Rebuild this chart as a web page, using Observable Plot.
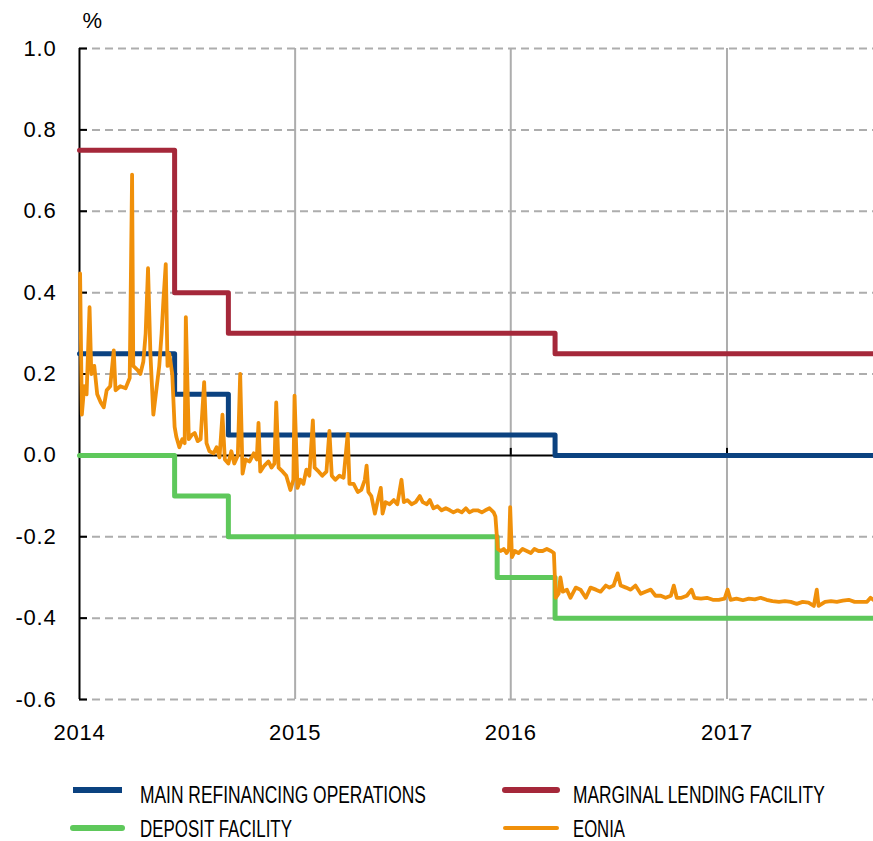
<!DOCTYPE html>
<html>
<head>
<meta charset="utf-8">
<script src="https://cdn.jsdelivr.net/npm/d3@7"></script>
<script src="https://cdn.jsdelivr.net/npm/@observablehq/plot@0.6"></script>
<style>
  html, body { margin: 0; padding: 0; background: #fff; }
  #chart { width: 873px; height: 841px; position: relative; overflow: hidden; }
  svg { display: block; }
  #chart > svg.mainplot text { font-size: 22px !important; letter-spacing: 0.8px; }
</style>
</head>
<body>
<div id="chart"></div>
<script>
// ---------- data ----------
const yTicks = [-0.6, -0.4, -0.2, 0.0, 0.2, 0.4, 0.6, 0.8, 1.0];
const yearTicks = ["2014-01-01", "2015-01-01", "2016-01-01", "2017-01-01"];
const xDomain = ["2014-01-01", "2017-09-06"];
const unitLabel = "%";

// policy rate changes (step-after), last entry extends to chart end
const policyDates = ["2014-01-01", "2014-06-11", "2014-09-10", "2015-12-09", "2016-03-16", "2017-09-06"];
const mroValues = [0.25, 0.15, 0.05, 0.05, 0.00, 0.00];
const mlfValues = [0.75, 0.40, 0.30, 0.30, 0.25, 0.25];
const dfValues  = [0.00, -0.10, -0.20, -0.30, -0.40, -0.40];

// EONIA
const eoniaDates = [
  "2014-01-02","2014-01-05","2014-01-09","2014-01-13","2014-01-18","2014-01-21","2014-01-26","2014-01-31",
  "2014-02-06","2014-02-11","2014-02-16","2014-02-22","2014-02-28","2014-03-03","2014-03-11","2014-03-20",
  "2014-03-27","2014-03-31","2014-04-02","2014-04-09","2014-04-14","2014-04-19","2014-04-23","2014-04-27",
  "2014-05-01","2014-05-06","2014-05-11","2014-05-16","2014-05-20","2014-05-23","2014-05-27","2014-05-30",
  "2014-06-02","2014-06-07","2014-06-11","2014-06-14","2014-06-19","2014-06-24","2014-06-28","2014-06-30",
  "2014-07-05","2014-07-10","2014-07-15","2014-07-20","2014-07-25","2014-07-31","2014-08-04","2014-08-09",
  "2014-08-16","2014-08-21","2014-08-26","2014-08-31","2014-09-04","2014-09-10","2014-09-15","2014-09-20",
  "2014-09-26","2014-09-30","2014-10-04","2014-10-09","2014-10-16","2014-10-23","2014-10-28","2014-10-31",
  "2014-11-03","2014-11-10","2014-11-17","2014-11-22","2014-11-27","2014-11-30","2014-12-04","2014-12-11",
  "2014-12-17","2014-12-24","2014-12-29","2014-12-31",
  "2015-01-05","2015-01-10","2015-01-15","2015-01-20","2015-01-25","2015-01-31","2015-02-03","2015-02-10",
  "2015-02-16","2015-02-23","2015-02-28","2015-03-04","2015-03-10","2015-03-17","2015-03-24","2015-03-31",
  "2015-04-03","2015-04-10","2015-04-17","2015-04-23","2015-04-29","2015-05-02","2015-05-05","2015-05-10",
  "2015-05-16","2015-05-21","2015-05-26","2015-05-29","2015-06-03","2015-06-10","2015-06-17","2015-06-23",
  "2015-06-30","2015-07-04","2015-07-10","2015-07-17","2015-07-24","2015-07-31","2015-08-05","2015-08-12",
  "2015-08-17","2015-08-23","2015-08-30","2015-09-06","2015-09-13","2015-09-20","2015-09-26","2015-10-03",
  "2015-10-10","2015-10-17","2015-10-23","2015-10-30","2015-11-06","2015-11-13","2015-11-19","2015-11-26",
  "2015-12-03","2015-12-06","2015-12-10","2015-12-15","2015-12-20","2015-12-25","2015-12-29","2015-12-31",
  "2016-01-03","2016-01-08","2016-01-14","2016-01-21","2016-01-28","2016-02-04","2016-02-10","2016-02-17",
  "2016-02-24","2016-03-02","2016-03-09","2016-03-14","2016-03-17","2016-03-22","2016-03-25","2016-03-29",
  "2016-04-05","2016-04-11","2016-04-20","2016-04-28","2016-05-07","2016-05-15","2016-05-24","2016-06-01",
  "2016-06-10","2016-06-16","2016-06-23","2016-06-30","2016-07-05","2016-07-14","2016-07-22","2016-07-30",
  "2016-08-08","2016-08-16","2016-08-25","2016-09-02","2016-09-11","2016-09-19","2016-09-28","2016-10-03",
  "2016-10-08","2016-10-16","2016-10-25","2016-11-02","2016-11-07","2016-11-18","2016-11-28","2016-12-08",
  "2016-12-18","2016-12-28","2017-01-02","2017-01-07","2017-01-17","2017-01-28","2017-02-07","2017-02-17",
  "2017-02-27","2017-03-09","2017-03-19","2017-03-30","2017-04-09","2017-04-19","2017-04-29","2017-05-09",
  "2017-05-19","2017-05-28","2017-06-02","2017-06-05","2017-06-16","2017-06-26","2017-07-06","2017-07-16",
  "2017-07-26","2017-08-05","2017-08-15","2017-08-26","2017-09-01","2017-09-06"
];
const eoniaValues = [
  0.447,0.10,0.17,0.15,0.364,0.20,0.22,0.15,
  0.13,0.118,0.16,0.17,0.258,0.16,0.17,0.165,
  0.19,0.69,0.22,0.21,0.20,0.23,0.30,0.46,
  0.25,0.10,0.16,0.22,0.30,0.38,0.47,0.22,
  0.25,0.20,0.07,0.045,0.02,0.04,0.03,0.34,
  0.04,0.05,0.055,0.035,0.04,0.18,0.03,0.01,
  0.005,0.02,-0.005,0.10,-0.01,-0.02,0.01,-0.02,
  0.0,0.20,-0.045,-0.01,-0.015,0.005,-0.01,0.08,
  -0.04,-0.025,-0.015,-0.03,-0.02,0.13,-0.03,-0.04,
  -0.05,-0.085,-0.06,0.147,
  -0.08,-0.06,-0.07,-0.035,-0.05,0.086,-0.03,-0.04,
  -0.05,-0.04,0.06,-0.05,-0.06,-0.05,-0.055,0.053,
  -0.07,-0.07,-0.09,-0.085,-0.06,-0.025,-0.09,-0.10,
  -0.143,-0.11,-0.08,-0.143,-0.115,-0.12,-0.11,-0.12,
  -0.06,-0.115,-0.11,-0.12,-0.115,-0.10,-0.115,-0.12,
  -0.11,-0.13,-0.125,-0.135,-0.13,-0.135,-0.14,-0.135,
  -0.14,-0.13,-0.14,-0.135,-0.135,-0.14,-0.135,-0.13,
  -0.14,-0.15,-0.23,-0.235,-0.23,-0.24,-0.23,-0.127,
  -0.25,-0.235,-0.24,-0.23,-0.235,-0.24,-0.23,-0.235,
  -0.235,-0.23,-0.235,-0.24,-0.35,-0.34,-0.30,-0.335,
  -0.33,-0.35,-0.325,-0.33,-0.35,-0.325,-0.33,-0.335,
  -0.32,-0.325,-0.32,-0.29,-0.32,-0.325,-0.33,-0.32,
  -0.34,-0.335,-0.33,-0.345,-0.345,-0.35,-0.345,-0.32,
  -0.35,-0.35,-0.345,-0.33,-0.35,-0.352,-0.35,-0.355,
  -0.355,-0.352,-0.33,-0.355,-0.352,-0.356,-0.352,-0.354,
  -0.35,-0.355,-0.358,-0.36,-0.358,-0.36,-0.365,-0.36,
  -0.362,-0.37,-0.33,-0.37,-0.36,-0.358,-0.36,-0.357,
  -0.355,-0.36,-0.36,-0.36,-0.35,-0.355
];

const seriesNames = ["MAIN REFINANCING OPERATIONS", "MARGINAL LENDING FACILITY", "DEPOSIT FACILITY", "EONIA"];
const seriesColors = ["#0b4280", "#a5283a", "#5ec85b", "#f0900a"];

// ---------- build tables ----------
const parse = d3.utcParse("%Y-%m-%d");
const policy = policyDates.map((d, i) => ({date: parse(d), mro: mroValues[i], mlf: mlfValues[i], df: dfValues[i]}));
const eonia = eoniaDates.map((d, i) => ({date: parse(d), value: eoniaValues[i]}));
const years = yearTicks.map(parse);
const fmt = d => d.toFixed(1);

const plot = Plot.plot({
  className: "mainplot",
  width: 873,
  height: 760,
  marginLeft: 79,
  marginRight: 0,
  marginTop: 48,
  marginBottom: 61,
  style: {fontFamily: "'Liberation Sans', Arial, sans-serif", fontSize: "22px", color: "#000", background: "#fff", overflow: "visible"},
  x: {type: "utc", domain: xDomain.map(parse), label: null},
  y: {domain: [-0.6, 1.0], label: null},
  marks: [
    Plot.ruleY(yTicks.filter(d => d !== 0), {stroke: "#adadad", strokeWidth: 2, strokeDasharray: "8,5"}),
    Plot.ruleX(years.slice(1), {stroke: "#adadad", strokeWidth: 2}),
    Plot.ruleY([0], {stroke: "#000", strokeWidth: 2}),
    Plot.ruleX(years.slice(1), {y1: 0, y2: 0, insetTop: -7, stroke: "#000", strokeWidth: 2}),
    Plot.ruleX([years[0]], {stroke: "#000", strokeWidth: 2}),
    Plot.axisY({ticks: yTicks, tickSize: 8, dx: 8, tickFormat: () => "", stroke: "#000", strokeWidth: 2, label: null}),
    Plot.axisY({ticks: yTicks, tickSize: 0, tickPadding: 23, tickFormat: fmt, label: null, fontSize: 22}),
    Plot.axisX({ticks: years, tickSize: 0, tickPadding: 25, tickFormat: d3.utcFormat("%Y"), label: null, fontSize: 22}),
    Plot.line(policy, {x: "date", y: "df", curve: "step-after", stroke: seriesColors[2], strokeWidth: 5}),
    Plot.line(policy, {x: "date", y: "mlf", curve: "step-after", stroke: seriesColors[1], strokeWidth: 5}),
    Plot.line(policy, {x: "date", y: "mro", curve: "step-after", stroke: seriesColors[0], strokeWidth: 5}),
    Plot.line(eonia, {x: "date", y: "value", stroke: seriesColors[3], strokeWidth: 3.8, strokeLinejoin: "round"}),
    Plot.text([unitLabel], {text: d => d, frameAnchor: "top-left", textAnchor: "start", lineAnchor: "bottom", dx: 3, dy: -21, fontSize: 22})
  ]
});
document.getElementById("chart").appendChild(plot);

// ---------- legend (below the plot) ----------
const legendItems = [
  {col: 0, row: 0, idx: 0, w: 6, cap: "butt", tw: 286},
  {col: 1, row: 0, idx: 1, w: 6, cap: "round", tw: 252},
  {col: 0, row: 1, idx: 2, w: 6, cap: "round", tw: 152},
  {col: 1, row: 1, idx: 3, w: 4, cap: "round", tw: 52}
];
const colX = [[73, 122, 140], [505, 557, 573]];
const rowY = [[30, 43], [68, 77]];
const legend = d3.create("svg").attr("width", 873).attr("height", 81)
  .style("font-family", "'Liberation Sans Narrow', 'Arial Narrow', sans-serif");
document.getElementById("chart").appendChild(legend.node());
for (const it of legendItems) {
  const [sx1, sx2, tx] = colX[it.col];
  const [sy, ty] = rowY[it.row];
  legend.append("line").attr("x1", sx1).attr("x2", sx2).attr("y1", sy).attr("y2", sy)
    .attr("stroke", seriesColors[it.idx]).attr("stroke-width", it.w).attr("stroke-linecap", it.cap);
  const t = legend.append("text").attr("x", 0).attr("y", 0).attr("fill", "#000")
    .style("font-size", "23.5px").text(seriesNames[it.idx]);
  // condense horizontally so the tall label spans the reference width
  const natural = t.node().getComputedTextLength();
  const sx = Math.min(1, it.tw / natural);
  t.attr("transform", `translate(${tx},${ty}) scale(${sx.toFixed(3)},1)`);
}
</script>
</body>
</html>
